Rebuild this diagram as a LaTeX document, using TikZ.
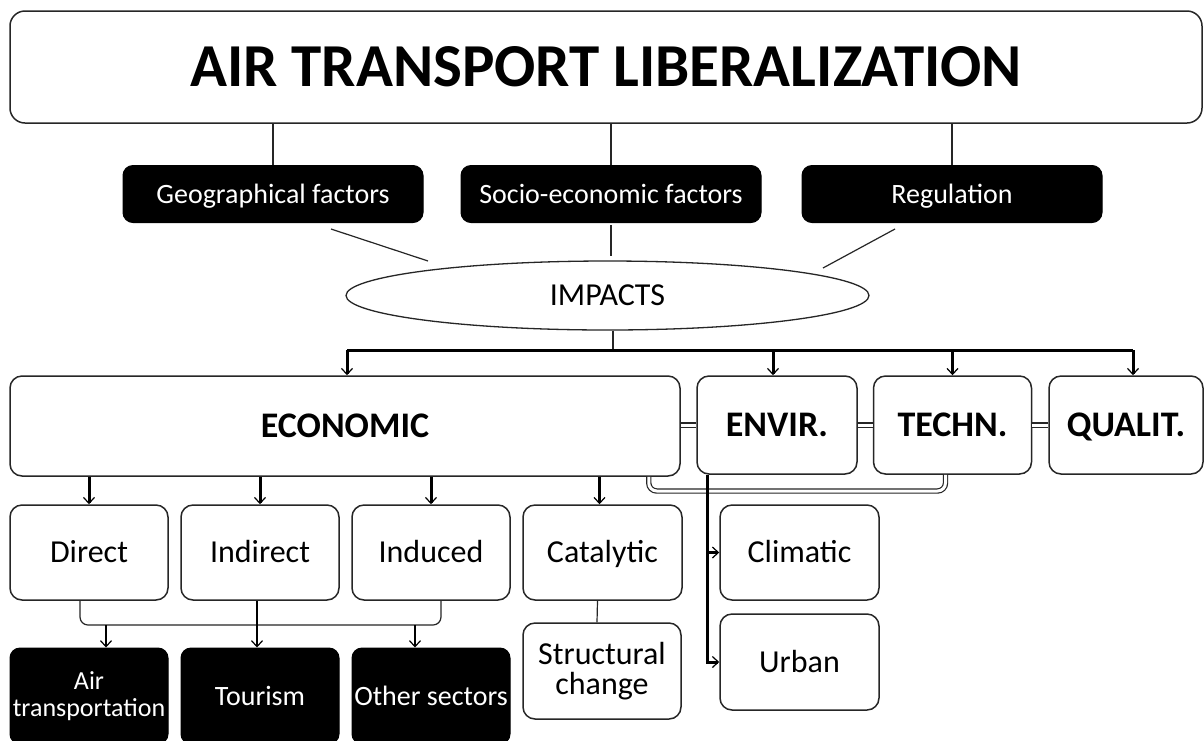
\documentclass[tikz,border=0pt]{standalone}
\usepackage{fontspec}
\setmainfont{Carlito}
\usetikzlibrary{arrows.meta,shapes.geometric,calc}
\begin{document}
\begin{tikzpicture}[x=1pt,y=-1pt,
  box/.style={draw=black!85, line width=1.5pt, rounded corners=12pt, fill=white, inner sep=0pt, align=center},
  blk/.style={draw=black, fill=black, text=white, line width=1pt, rounded corners=10pt, inner sep=0pt, align=center},
  thinln/.style={line width=1.2pt, draw=black!85},
  medln/.style={line width=1.8pt},
  thickln/.style={line width=3pt},
  arr/.style={-{Straight Barb[length=6pt,width=11pt,line width=1.2pt]}},
  dbl/.style={double, draw=black!85, line width=1.2pt, double distance=3pt},
  lvtwo/.style={text height=23.2pt, text depth=0pt, font=\bfseries\fontsize{36}{40}\selectfont},
  lvthree/.style={text height=20.6pt, text depth=0pt, font=\fontsize{32}{36}\selectfont},
  lvthreeml/.style={font=\fontsize{32}{30}\selectfont},
  blkfont/.style={text height=18pt, text depth=0pt, font=\fontsize{28}{30}\selectfont},
  blkfontml/.style={font=\fontsize{26}{27}\selectfont}
]
\useasboundingbox (0,0) rectangle (1204,740);
\fill[white] (0,0) rectangle (1204,740);

% title
\node[box, text height=39.3pt, text depth=0pt, rounded corners=15pt, minimum width=1192pt, minimum height=112pt,
      font=\bfseries\fontsize{61}{70}\selectfont] (title) at (606,67) {AIR TRANSPORT LIBERALIZATION};

% factors
\node[blk, blkfont, minimum width=300pt, minimum height=57pt] (geo) at (273,194) {Geographical factors};
\node[blk, blkfont, minimum width=300pt, minimum height=57pt] (socio) at (611,194) {Socio-economic factors};
\node[blk, blkfont, minimum width=300pt, minimum height=57pt] (reg) at (952,194) {Regulation};

\draw[thinln] (title.south -| geo) -- (geo.north);
\draw[thinln] (title.south -| socio) -- (socio.north);
\draw[thinln] (title.south -| reg) -- (reg.north);

% impacts
\node[draw=black!85, line width=1.3pt, ellipse, minimum width=523pt, minimum height=69pt, inner sep=0pt,
      text height=20.6pt, text depth=0pt, font=\fontsize{32}{36}\selectfont] (impacts) at (607.5,295.5) {IMPACTS};

\coordinate (d1a) at (331,229); \coordinate (d1b) at (428,261);
\coordinate (d2a) at (611,225); \coordinate (d2b) at (611,256);
\coordinate (d3a) at (895,229); \coordinate (d3b) at (823,268);
\draw[thinln] (d1a) -- (d1b);
\draw[thinln] (d2a) -- (d2b);
\draw[thinln] (d3a) -- (d3b);

% level two
\node[box, lvtwo, minimum width=670pt, minimum height=100pt] (econ) at (345,426) {ECONOMIC};
\node[box, lvtwo, minimum width=160pt, minimum height=98pt] (envir) at (777,425) {ENVIR.};
\node[box, lvtwo, minimum width=158pt, minimum height=98pt] (techn) at (952.5,425) {TECHN.};
\node[box, lvtwo, minimum width=154pt, minimum height=98pt] (qualit) at (1126,425) {QUALIT.};

% bus
\coordinate (busL) at (347,350);
\coordinate (busR) at (1133,350);
\coordinate (impb) at (613,350);
\draw[thinln] (impacts.south -| impb) -- (impb);
\draw[thickln] (busL) -- (busR);
\draw[thickln, arr] (busL) -- (busL |- econ.north);
\draw[thickln, arr] ([xshift=-4pt]envir.north |- busL) -- ([xshift=-4pt]envir.north);
\draw[thickln, arr] (techn.north |- busL) -- (techn.north);
\draw[thickln, arr] (busR) -- (busR |- qualit.north);

% double links
\draw[dbl] (envir.west -| econ.east) -- (envir.west);
\draw[dbl] (envir.east) -- (techn.west);
\draw[dbl] (techn.east) -- (qualit.west);
\coordinate (dblc) at (800,491);
\draw[dbl, rounded corners=8pt] ([xshift=-32pt]econ.south east) |- (dblc) -| ([xshift=-7pt]techn.south);

% level three
\node[box, lvthree, minimum width=158pt, minimum height=95pt] (direct) at (89,552.5) {Direct};
\node[box, lvthree, minimum width=158pt, minimum height=95pt] (indirect) at (260,552.5) {Indirect};
\node[box, lvthree, minimum width=158pt, minimum height=95pt] (induced) at (431,552.5) {Induced};
\node[box, lvthree, minimum width=159pt, minimum height=95pt] (catalytic) at (602.5,552.5) {Catalytic};
\node[box, lvthree, minimum width=159pt, minimum height=95pt] (climatic) at (799.5,552.5) {Climatic};
\node[box, lvthree, minimum width=159pt, minimum height=96pt] (urban) at (799.5,662) {Urban};
\node[box, lvthreeml, minimum width=158pt, minimum height=96pt] (structural) at (602,671) {Structural\\change};

\draw[thickln, arr] (econ.south -| direct) -- (direct.north);
\draw[thickln, arr] (econ.south -| indirect) -- (indirect.north);
\draw[thickln, arr] (econ.south -| induced) -- (induced.north);
\draw[thickln, arr] ([xshift=-3pt]econ.south -| catalytic) -- ([xshift=-3pt]catalytic.north);
\draw[thinln] ([xshift=-5pt]catalytic.south) -- ([xshift=-5pt]structural.north);

% black sectors
\node[blk, blkfontml, minimum width=158pt, minimum height=96pt] (air) at (89,696) {Air\\transportation};
\node[blk, blkfont, minimum width=158pt, minimum height=96pt] (tourism) at (260,696) {Tourism};
\node[blk, blkfont, minimum width=158pt, minimum height=96pt] (other) at (431,696) {Other sectors};

\coordinate (brk) at (260,625);
\draw[thinln, rounded corners=8pt] ([xshift=-9pt]direct.south) |- (brk) -| ([xshift=10pt]induced.south);
\draw[medln, arr] ([xshift=17pt]air.north |- brk) -- ([xshift=17pt]air.north);
\draw[medln, arr] ([xshift=-3pt]indirect.south) -- ([xshift=-3pt]tourism.north);
\draw[medln, arr] ([xshift=-16pt]other.north |- brk) -- ([xshift=-16pt]other.north);

% environmental sub-links
\coordinate (ev) at ([xshift=-70pt]envir.south);
\draw[thickln, arr] (ev) |- (urban.west);
\draw[thickln, arr] (ev |- climatic.west) -- (climatic.west);
\end{tikzpicture}
\end{document}
